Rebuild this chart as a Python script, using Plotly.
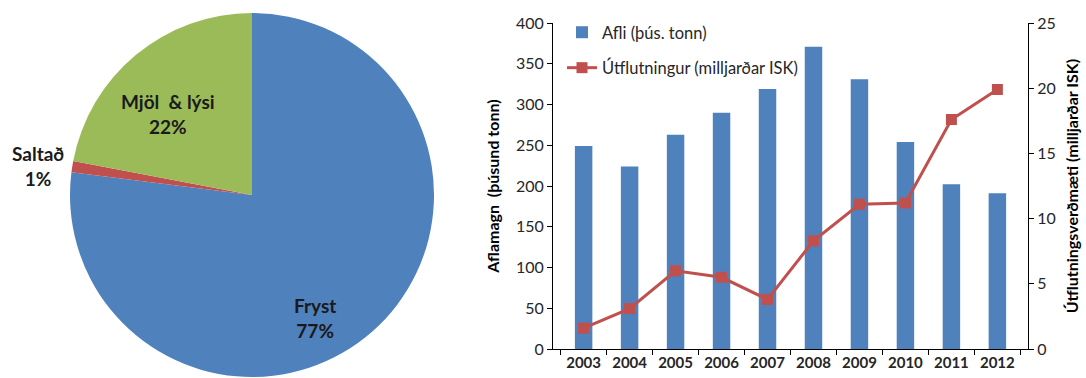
import plotly.graph_objects as go

# Pie data
pie_labels = ["Fryst", "Saltað", "Mjöl  & lýsi"]
pie_values = [77, 1, 22]
pie_colors = ["#4F81BD", "#C0504D", "#9BBB59"]

# Bar/line data
years = ["2003", "2004", "2005", "2006", "2007", "2008", "2009", "2010", "2011", "2012"]
afli = [249, 224, 263, 290, 319, 371, 331, 254, 202, 191]
utflutningur = [1.6, 3.1, 6.0, 5.5, 3.8, 8.3, 11.1, 11.2, 17.6, 19.9]

FONT = "Lato"
W, H = 1086, 378

fig = go.Figure()

fig.add_trace(go.Pie(
    labels=pie_labels, values=pie_values,
    marker=dict(colors=pie_colors, line=dict(width=0)),
    sort=False, direction="clockwise", rotation=0,
    textinfo="none", hoverinfo="label+percent", showlegend=False,
    domain=dict(x=[70 / W, 434 / W], y=[1 - 377 / H, 1 - 13 / H]),
))

fig.add_trace(go.Bar(
    x=years, y=afli, name="Afli (þús. tonn)",
    marker=dict(color="#4F81BD", line=dict(width=0)),
    width=0.38, xaxis="x", yaxis="y", legendgroup="a",
))
fig.add_trace(go.Scatter(
    x=years, y=utflutningur, name="Útflutningur (milljarðar ISK)",
    mode="lines+markers",
    line=dict(color="#C0504D", width=3),
    marker=dict(symbol="square", size=11, color="#C0504D"),
    xaxis="x", yaxis="y2", legendgroup="b",
))

ann = []
def lab(text, x, y):
    ann.append(dict(text=text, x=x / W, y=1 - y / H, xref="paper", yref="paper",
                    xanchor="center", yanchor="middle",
                    showarrow=False, font=dict(family=FONT, size=19, color="#1a1a1a", weight="bold"),
                    align="center"))
lab("Fryst<br>77%", 315, 318)
lab("Mjöl  & lýsi<br>22%", 168, 114)
lab("Saltað<br>1%", 38, 166)

fig.update_layout(
    width=W, height=H,
    margin=dict(l=0, r=0, t=0, b=0),
    paper_bgcolor="white", plot_bgcolor="white",
    font=dict(family=FONT, size=13, color="#262626"),
    annotations=ann,
    legend=dict(x=562 / W, y=1 - 15 / H, xanchor="left", yanchor="top",
                bgcolor="rgba(0,0,0,0)", tracegroupgap=11,
                font=dict(family=FONT, size=16.5, color="#262626")),
    xaxis=dict(domain=[553 / W, 1028 / W], anchor="y", type="category", automargin=False,
               showline=True, linecolor="black", linewidth=1,
               ticks="outside", tickson="boundaries", ticklen=5, tickcolor="black",
               tickfont=dict(family=FONT, size=15, color="#262626", weight="bold"),
               showgrid=False),
    yaxis=dict(domain=[1 - 349 / H, 1 - 23 / H], range=[0, 400], dtick=50, automargin=False,
               showline=True, linecolor="black", linewidth=1,
               ticks="outside", ticklen=5, tickcolor="black", showgrid=False, zeroline=False,
               tickfont=dict(family=FONT, size=16, color="#262626"),
               title=dict(text="Aflamagn  (þúsund tonn)", standoff=12,
                          font=dict(family=FONT, size=16, color="black", weight="bold"))),
    yaxis2=dict(overlaying="y", side="right", anchor="x", range=[0, 25], dtick=5, automargin=False,
                showline=True, linecolor="black", linewidth=1,
                ticks="outside", ticklen=5, tickcolor="black", showgrid=False, zeroline=False,
                tickfont=dict(family=FONT, size=16, color="#262626"),
                title=dict(text="Útflutningsverðmæti (milljarðar ISK)", standoff=12,
                           font=dict(family=FONT, size=16, color="black", weight="bold"))),
)

fig.write_html("out.html")
